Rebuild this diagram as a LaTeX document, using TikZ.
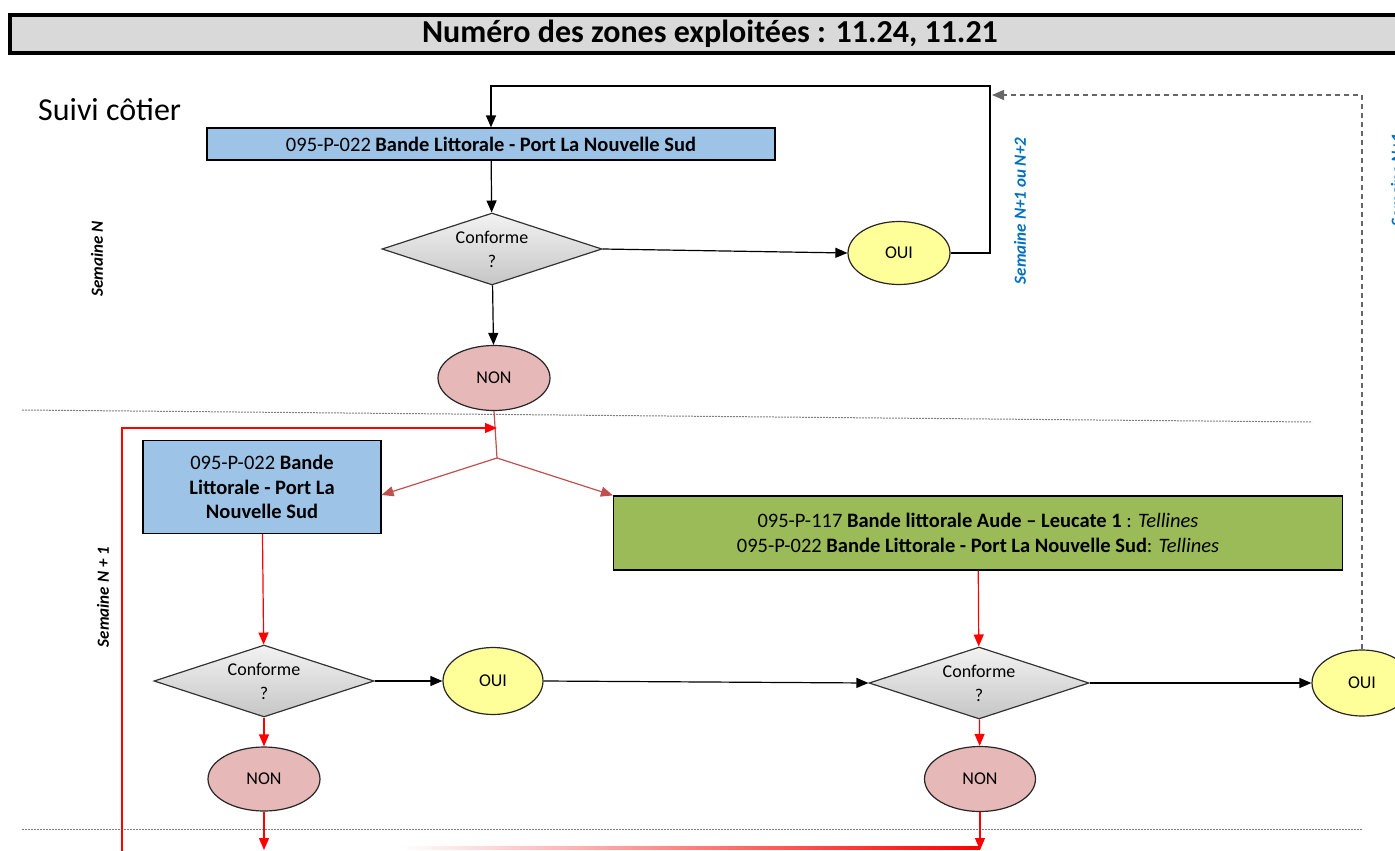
\documentclass[tikz,border=0pt]{standalone}
\usepackage{fontspec}
\setmainfont{Carlito}
\usetikzlibrary{shapes.geometric,arrows.meta}
\definecolor{titleG}{HTML}{D9D9D9}
\definecolor{blueB}{HTML}{9DC3E6}
\definecolor{greenB}{HTML}{9BBB59}
\definecolor{nonR}{HTML}{E6B8B7}
\definecolor{ouiY}{HTML}{FFFF99}
\definecolor{lblue}{HTML}{0070C0}
\definecolor{dred}{HTML}{C0504D}
\begin{document}
\begin{tikzpicture}[x=1pt,y=-1pt,
  box/.style={draw=black, line width=1.2pt, inner sep=0pt, align=center, font=\fontsize{20.5}{24.5}\selectfont},
  dia/.style={diamond, aspect=3.05, draw=black!80, line width=1.2pt, top color=gray!10, bottom color=gray!45, minimum width=220pt, minimum height=72pt, inner sep=0pt, align=center, font=\fontsize{18}{24}\selectfont},
  oui/.style={ellipse, draw=black!85, line width=1.2pt, fill=ouiY, inner sep=0pt, font=\fontsize{18}{20}\selectfont},
  non/.style={ellipse, draw=black!85, line width=1.2pt, fill=nonR, inner sep=0pt, font=\fontsize{18}{20}\selectfont},
  arr/.style={-{Triangle[length=12pt,width=10pt]}, line width=1.2pt},
  rarr/.style={arr, draw=red},
  darr/.style={arr, draw=dred},
  sep/.style={draw=gray, line width=1pt, dash pattern=on 2pt off 1pt},
  wk/.style={rotate=90, font=\fontsize{17}{20}\selectfont\bfseries\itshape}
]
\useasboundingbox (0,0) rectangle (1395,851);

% title
\node[draw=black, line width=4pt, fill=titleG, minimum width=1400pt, minimum height=38pt, inner sep=0pt,
  font=\fontsize{32}{36}\selectfont\bfseries] (title) at (710,34) {Numéro des zones exploitées : 11.24, 11.21};

\node[anchor=west, inner sep=0pt, font=\fontsize{32}{36}\selectfont] (suivi) at (38,110) {Suivi côtier};

% week labels
\node[wk] (wN) at (97,259) {Semaine N};
\node[wk, text=lblue] (wN12) at (1020,211) {Semaine N+1 ou N+2};
\node[wk] (wN1) at (103,597) {Semaine N + 1};
\node[wk, text=lblue] (wN1r) at (1397,180) {Semaine N+1};

% separators
\draw[sep] (22,410) -- (1312,422);
\draw[sep] (22,829) -- (1362,829);

% nodes
\node[box, fill=blueB, minimum width=568pt, minimum height=32pt] (b1) at (491,144)
  {095-P-022 \textbf{Bande Littorale - Port La Nouvelle Sud}};
\node[dia] (d1) at (492,249) {Conforme\\?};
\node[oui, minimum width=102pt, minimum height=63pt] (o1) at (899,253) {OUI};
\node[non, minimum width=112pt, minimum height=65pt] (n1) at (494,378) {NON};

\coordinate (J) at (497,458);
\coordinate (Jtop) at (497,428);
\coordinate (Lb) at (122,852);

\node[box, fill=blueB, minimum width=238pt, minimum height=93pt] (b2) at (262,487)
  {095-P-022 \textbf{Bande}\\\textbf{Littorale - Port La}\\\textbf{Nouvelle Sud}};
\node[box, fill=greenB, minimum width=729pt, minimum height=74pt] (g) at (978,533)
  {095-P-117 \textbf{Bande littorale Aude – Leucate 1} : \textit{Tellines}\\
   095-P-022 \textbf{Bande Littorale - Port La Nouvelle Sud}: \textit{Tellines}};

\node[dia] (d2) at (264,681) {Conforme\\?};
\node[oui, minimum width=100pt, minimum height=67pt] (o2) at (493,681) {OUI};
\node[dia] (d3) at (979,683) {Conforme\\?};
\node[oui, minimum width=100pt, minimum height=66pt] (o3) at (1362,683) {OUI};
\node[non, minimum width=112pt, minimum height=64pt] (n2) at (264,779) {NON};
\node[non, minimum width=111pt, minimum height=65pt] (n3) at (980,779) {NON};

\coordinate (L1) at (990,86);
\coordinate (D1) at (992,95);
\coordinate (B2) at (264,850);
\coordinate (B3) at (980,850);

% connectors
\draw[arr] (b1) -- (d1);
\draw[arr] (d1.east) -- (o1.west);
\draw[arr] (d1) -- (n1);
\draw[arr] (o1.east) -| (L1) -| (b1.north);
\draw[arr, draw=gray!80!black, dash pattern=on 5pt off 4pt] (o3.north) |- (D1);

\draw[line width=1.2pt, draw=dred] (n1.south) -- (J);
\draw[darr] (J) -- ([yshift=-8pt]b2.east);
\draw[darr] (J) -- (g.north west);
\draw[rarr] (Lb) |- (Jtop);

\draw[rarr] (b2) -- (d2);
\draw[arr] (d2.east) -- (o2.west);
\draw[arr] (o2.east) -- (d3.west);
\draw[arr] (d3.east) -- (o3.west);
\draw[rarr] (g) -- (d3);
\draw[rarr] (d2) -- (n2);
\draw[rarr] (d3) -- (n3);
\draw[rarr] (n2) -- (B2);
\draw[rarr] (n3) -- (B3);
\shade[left color=white, right color=red] (400,846.8) rectangle (980,849.2);
\end{tikzpicture}
\end{document}
